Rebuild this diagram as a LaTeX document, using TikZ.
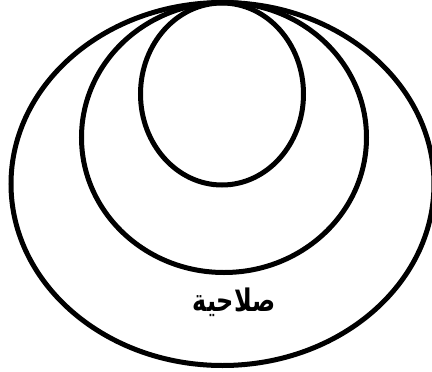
\documentclass[tikz,border=0pt]{standalone}
\usepackage{fontspec}
\newfontfamily\arabicfont[Script=Arabic]{DejaVu Sans}
\TeXXeTstate=1
\tikzset{ring/.style={draw=black,line width=5bp}}
\begin{document}
\begin{tikzpicture}[x=1bp,y=-1bp]
\useasboundingbox[fill=white] (0,0) rectangle (432,372);
\begin{scope}
\clip (0,0) rectangle (432,372);
\draw[ring] (222.5,184) ellipse [x radius=211.5, y radius=181.5];
\draw[ring] (224,137.5) ellipse [x radius=142.5, y radius=135];
\draw[ring] (222,94) ellipse [x radius=81.5, y radius=91];
\end{scope}
\node[font=\arabicfont\bfseries\fontsize{24}{26}\selectfont] (label) at (234,302) {\scalebox{1}[1.3]{\beginR صلاحية\endR}};
\end{tikzpicture}
\end{document}
